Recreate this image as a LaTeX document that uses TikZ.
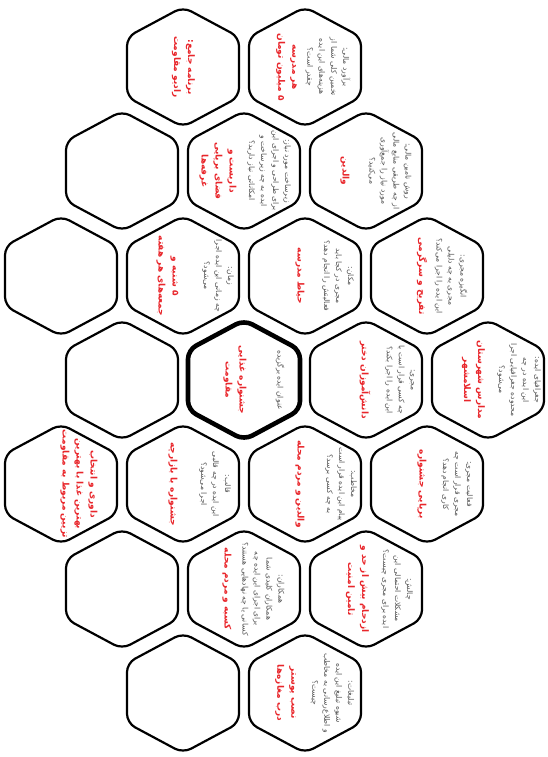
\documentclass[tikz,border=0pt]{standalone}
\usepackage{fontspec}
\newfontfamily\fa[Script=Arabic]{DejaVu Sans}
\TeXXeTstate=1
\newcommand\RL[1]{\beginR#1\endR}
\definecolor{txtgray}{HTML}{555555}
\definecolor{txtred}{HTML}{E8262B}
\newcommand\hexcell[3][hexline]{%
  \coordinate (#2) at #3;
  \draw[#1] (#2) ++(-56,0) -- ++(0,-30) -- ++(56,-30) -- ++(56,30) -- ++(0,60) -- ++(-56,30) -- ++(-56,-30) -- cycle;}
\begin{document}
\begin{tikzpicture}[x=1pt,y=-1pt,
  hexline/.style={draw=black, line width=2.2pt, rounded corners=9pt},
  boldhex/.style={hexline, line width=4.6pt},
  graytext/.style={rotate=-90, align=center, text=txtgray, inner sep=0pt,
    font=\fa\fontsize{7.6}{12}\selectfont},
  redtext/.style={rotate=-90, align=center, text=txtred, inner sep=0pt,
    font=\fa\bfseries\fontsize{9}{14}\selectfont}]
\useasboundingbox (0,0) rectangle (547,757);

% row 1
\hexcell{A1}{(183,67)}
\hexcell{A2}{(305,67)}
% row 2
\hexcell{B1}{(122,171)}
\hexcell{B2}{(244,171)}
\hexcell{B3}{(366,171)}
% row 3
\hexcell{C1}{(61,276)}
\hexcell{C2}{(183,276)}
\hexcell{C3}{(305,276)}
\hexcell{C4}{(427,276)}
% row 4
\hexcell{D1}{(122,380)}
\hexcell[boldhex]{D2}{(244,380)}
\hexcell{D3}{(366,380)}
\hexcell{D4}{(488,380)}
% row 5
\hexcell{E1}{(61,484)}
\hexcell{E2}{(183,484)}
\hexcell{E3}{(305,484)}
\hexcell{E4}{(427,484)}
% row 6
\hexcell{F1}{(122,589)}
\hexcell{F2}{(244,589)}
\hexcell{F3}{(366,589)}
% row 7
\hexcell{G1}{(183,693)}
\hexcell{G2}{(305,693)}

% texts
\node[redtext] (A1r) at (183.5,67) {\RL{برنامه جامع:}\\\RL{رادیو مقاومت}};

\node[graytext] (A2g) at (328,67) {\RL{برآورد مالی:}\\\RL{تخمین کلی شما از}\\\RL{هزینه‌های این ایده}\\\RL{چقدر است؟}};
\node[redtext] (A2r) at (286.5,67) {\RL{هر مدرسه}\\\RL{۵ میلیون تومان}};

\node[graytext] (B2g) at (269,171) {\RL{زیرساخت مورد نیاز:}\\\RL{برای طراحی و اجرای این}\\\RL{ایده به چه زیرساخت و}\\\RL{امکاناتی نیاز دارید؟}};
\node[redtext] (B2r) at (218,171) {\RL{داربست و}\\\RL{فضای برپایی}\\\RL{غرفه‌ها}};

\node[graytext] (B3g) at (390,171) {\RL{روش تامین مالی:}\\\RL{از چه طریقی منابع مالی}\\\RL{مورد نیاز را جمع‌آوری}\\\RL{می‌کنید؟}};
\node[redtext] (B3r) at (345,171) {\RL{والدین}};

\node[graytext] (C2g) at (218,276) {\RL{زمان:}\\\RL{چه زمانی این ایده اجرا}\\\RL{می‌شود؟}};
\node[redtext] (C2r) at (167.5,276) {\RL{۵ شنبه و}\\\RL{جمعه‌های هر هفته}};

\node[graytext] (C3g) at (338,276) {\RL{مکان:}\\\RL{مجری در کجا باید}\\\RL{فعالیتش را انجام دهد؟}};
\node[redtext] (C3r) at (300,276) {\RL{حیاط مدرسه}};

\node[graytext] (C4g) at (451,276) {\RL{انگیزه مجری:}\\\RL{مجری به چه دلیلی}\\\RL{این ایده را اجرا می‌کند؟}};
\node[redtext] (C4r) at (422,276) {\RL{تفریح و سرگرمی}};

\node[graytext] (D2g) at (280,380) {\RL{عنوان ایده برگزیده}};
\node[redtext] (D2r) at (235,380) {\RL{جشنواره غذایی}\\\RL{مقاومت}};

\node[graytext] (D3g) at (400,380) {\RL{مجری:}\\\RL{چه کسی قرار است با}\\\RL{این ایده را اجرا بکند؟}};
\node[redtext] (D3r) at (365,380) {\RL{دانش‌آموزان دختر}};

\node[graytext] (D4g) at (519,380) {\RL{جغرافیای ایده:}\\\RL{این ایده در چه}\\\RL{محدوده جغرافیایی اجرا}\\\RL{می‌شود؟}};
\node[redtext] (D4r) at (473.5,380) {\RL{مدارس شهرستان}\\\RL{اسلامشهر}};

\node[redtext] (E1r) at (79,484) {\RL{داوری و انتخاب}\\\RL{بهترین غذا با بهترین}\\\RL{تزیین مربوط به مقاومت}};

\node[graytext] (E2g) at (215,484) {\RL{قالب:}\\\RL{این ایده در چه قالبی}\\\RL{اجرا می‌شود؟}};
\node[redtext] (E2r) at (173,484) {\RL{جشنواره با بازارچه}};

\node[graytext] (E3g) at (341,484) {\RL{مخاطب:}\\\RL{پیام این ایده قرار است}\\\RL{به چه کسی برسد؟}};
\node[redtext] (E3r) at (300,484) {\RL{والدین و مردم محله}};

\node[graytext] (E4g) at (457,484) {\RL{فعالیت مجری:}\\\RL{مجری قرار است چه}\\\RL{کاری انجام دهد؟}};
\node[redtext] (E4r) at (422,484) {\RL{برپایی جشنواره}};

\node[graytext] (F2g) at (262.5,589) {\RL{همکاران:}\\\RL{همکاران کلیدی شما}\\\RL{برای اجرای این ایده چه}\\\RL{کسانی یا چه نهادهایی هستند؟}};
\node[redtext] (F2r) at (227,589) {\RL{کسبه و مردم محله}};

\node[graytext] (F3g) at (397,589) {\RL{چالش:}\\\RL{مشکلات احتمالی این}\\\RL{ایده برای مجری چیست؟}};
\node[redtext] (F3r) at (357.5,589) {\RL{ازدحام بیش از حد و}\\\RL{تامین امنیت}};

\node[graytext] (G2g) at (332.5,693) {\RL{تبلیغات:}\\\RL{شیوه تبلیغ این ایده}\\\RL{و اطلاع‌رسانی به مخاطب}\\\RL{چیست؟}};
\node[redtext] (G2r) at (285.5,693) {\RL{نصب پوستر}\\\RL{درب مغازه‌ها}};
\end{tikzpicture}
\end{document}
